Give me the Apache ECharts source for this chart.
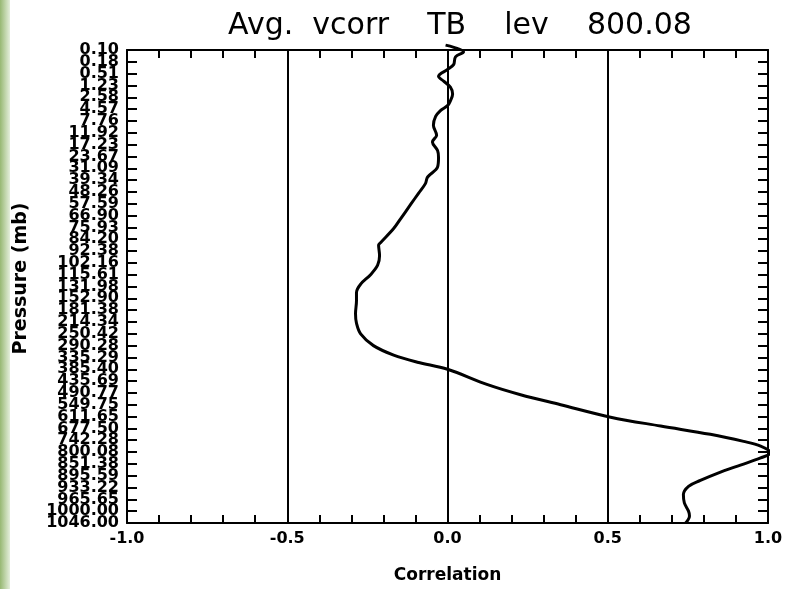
<!DOCTYPE html>
<html>
<head>
<meta charset="utf-8">
<script src="https://cdn.jsdelivr.net/npm/echarts@6/dist/echarts.min.js"></script>
<style>
html,body{margin:0;padding:0;background:#fff;}
#c{width:786px;height:589px;}
</style>
</head>
<body>
<div id="c"></div>
<script>
// Pressure level tick labels (top to bottom), one per level index
var levelLabels = ["0.10","0.18","0.51","1.23","2.58","4.57","7.76","11.92","17.23","23.67","31.09","39.34","48.26","57.59","66.90","75.93","84.20","92.38","102.16","115.61","131.98","152.90","181.38","214.34","250.42","290.28","335.29","385.40","435.69","490.77","549.75","611.65","677.50","742.28","800.08","851.38","895.59","933.22","965.65","1000.00","1046.00"];
// Correlation profile: level position (in level-index units) and correlation value
var profileLevel = [-0.41,0.17,0.58,1.24,1.65,2.23,2.64,3.14,3.72,4.30,4.71,5.12,5.62,6.36,7.2,7.77,8.5,9.1,9.9,10.74,11.3,12.1,13.06,14.3,15.1,16.3,16.5,17.4,18.2,19.0,19.8,20.5,21.2,22.3,23.1,24.0,25.0,25.8,26.4,27.0,28.3,29.15,30.0,31.05,31.8,32.5,33.1,33.5,34.05,34.5,35.1,35.8,36.4,36.9,37.6,38.3,39.0,39.4,40.0];
var profileCorr = [-0.006,0.05,0.025,0.019,0.0,-0.028,-0.012,0.009,0.016,0.009,0.0,-0.022,-0.037,-0.044,-0.034,-0.047,-0.031,-0.028,-0.031,-0.062,-0.069,-0.09,-0.115,-0.147,-0.168,-0.209,-0.215,-0.212,-0.218,-0.24,-0.271,-0.284,-0.284,-0.287,-0.284,-0.271,-0.231,-0.168,-0.094,0.0,0.125,0.228,0.353,0.509,0.665,0.82,0.924,0.977,1.008,0.977,0.914,0.842,0.789,0.752,0.736,0.739,0.752,0.755,0.743];
// Reference vertical lines
var refLines = [-0.5, 0, 0.5];
var titleText = "Avg.  vcorr    TB    lev    800.08";

var chart = echarts.init(document.getElementById('c'), null, {renderer:'canvas'});
var pts = profileCorr.map(function(v,i){ return [v, profileLevel[i]]; });
var lblFont = {fontFamily:'DejaVu Sans', fontWeight:'bold', color:'#000'};
function xfmt(v){ var r=Math.round(v*10)/10; return (Math.abs(r*2-Math.round(r*2))<1e-6) ? r.toFixed(1) : ''; }
function levFmt(parity){ return function(v){ var i=Math.round(v); return (i%2===parity) ? (levelLabels[i]||'') : ''; }; }
var xBase = {type:'value', min:-1, max:1, interval:0.1,
  axisLine:{show:true, onZero:false, lineStyle:{color:'#000', width:2}},
  axisTick:{show:true, inside:true, length:8, lineStyle:{color:'#000', width:2}},
  splitLine:{show:false}};
var yBase = {type:'value', inverse:true, min:0, max:40, interval:1,
  axisLine:{show:true, onZero:false, lineStyle:{color:'#000', width:2}},
  axisTick:{show:true, inside:true, length:10, lineStyle:{color:'#000', width:2}},
  splitLine:{show:false}};
chart.setOption({
  animation:false,
  backgroundColor:'#fff',
  title:{text:titleText, left:455, textAlign:'center', top:6,
    textStyle:{fontFamily:'DejaVu Sans', fontWeight:'normal', fontSize:30, color:'#000'}},
  grid:{left:127, right:18, top:50, bottom:55},
  xAxis:[
    Object.assign({}, xBase, {position:'bottom', name:'Correlation', nameLocation:'middle', nameGap:36,
      nameTextStyle:Object.assign({fontSize:17, padding:[8,0,0,0]}, lblFont),
      axisLabel:Object.assign({fontSize:16, margin:8, showMinLabel:true, showMaxLabel:true, hideOverlap:false, formatter:xfmt}, lblFont)}),
    Object.assign({}, xBase, {position:'top', axisLabel:{show:false}})
  ],
  yAxis:[
    Object.assign({}, yBase, {position:'left', name:'Pressure (mb)', nameLocation:'middle', nameGap:96, nameRotate:90,
      nameTextStyle:Object.assign({fontSize:19, padding:[0,0,0,16]}, lblFont),
      axisLabel:Object.assign({fontSize:16, margin:8, showMinLabel:true, showMaxLabel:true, hideOverlap:false, formatter:levFmt(0)}, lblFont)}),
    Object.assign({}, yBase, {position:'right', axisLabel:{show:false}}),
    Object.assign({}, yBase, {position:'left', axisLine:{show:false}, axisTick:{show:false},
      axisLabel:Object.assign({fontSize:16, margin:8, showMinLabel:false, showMaxLabel:false, hideOverlap:false, formatter:levFmt(1)}, lblFont)})
  ],
  graphic:[{type:'rect', left:0, top:0, shape:{width:10, height:589}, silent:true,
    style:{fill:new echarts.graphic.LinearGradient(0,0,1,0,[{offset:0,color:'#97b873'},{offset:1,color:'#e4eedb'}])}}],
  series:[{
    type:'line', xAxisIndex:0, yAxisIndex:0, data:pts, showSymbol:false, symbol:'none',
    smooth:0.35, clip:false,
    lineStyle:{color:'#000', width:3},
    markLine:{silent:true, symbol:'none', label:{show:false},
      lineStyle:{color:'#000', width:2, type:'solid'},
      data:refLines.map(function(v){ return {xAxis:v}; })}
  }]
});
</script>
</body>
</html>
